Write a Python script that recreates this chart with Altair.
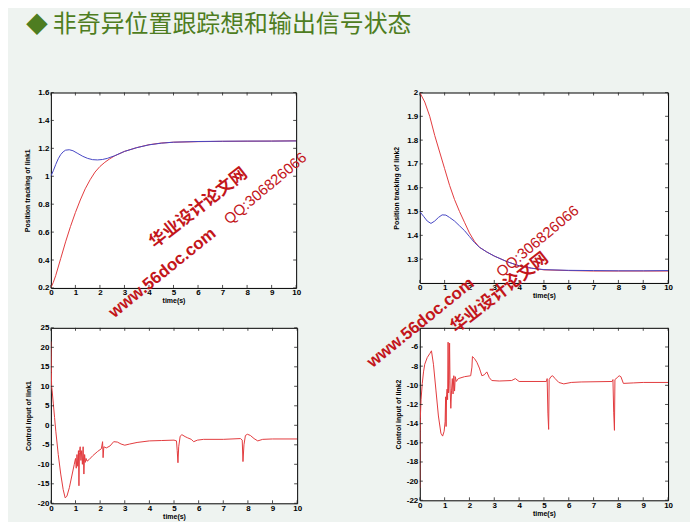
import altair as alt
import pandas as pd

# ---------------- text ----------------
TITLE = "非奇异位置跟踪想和输出信号状态"
BULLET = "◆"
X_LABEL = "time(s)"
Y_LABELS = ["Position tracking of link1", "Position tracking of link2",
            "Control input of link1", "Control input of link2"]
WM_CN = "华业设计论文网"
WM_URL = "www.56doc.com"
WM_QQ = "QQ:306826066"

# ---------------- ticks ----------------
X_TICKS = [0, 1, 2, 3, 4, 5, 6, 7, 8, 9, 10]
Y1_TICKS = [0.2, 0.4, 0.6, 0.8, 1, 1.2, 1.4, 1.6]
Y2_TICKS = [1.3, 1.4, 1.5, 1.6, 1.7, 1.8, 1.9, 2]
Y3_TICKS = [-20, -15, -10, -5, 0, 5, 10, 15, 20, 25]
Y4_TICKS = [-22, -20, -18, -16, -14, -12, -10, -8, -6]

# ---------------- panel 1: position link1 ----------------
t1_blue = [0, 0.1, 0.2, 0.3, 0.4, 0.5, 0.6, 0.75, 0.9, 1.1, 1.3, 1.5, 1.7, 1.9, 2.1, 2.3,
           2.6, 3.0, 3.5, 4.0, 4.5, 5.0, 6.0, 7.0, 8.0, 9.0, 10.0]
y1_blue = [1.0, 1.04, 1.085, 1.125, 1.155, 1.175, 1.187, 1.19, 1.183, 1.163, 1.143, 1.128,
           1.119, 1.117, 1.12, 1.128, 1.147, 1.178, 1.205, 1.225, 1.237, 1.244, 1.249,
           1.251, 1.252, 1.252, 1.253]
t1_red = [0, 0.1, 0.2, 0.4, 0.6, 0.8, 1.0, 1.2, 1.4, 1.6, 1.8, 2.0, 2.2, 2.4, 2.6, 3.0,
          3.5, 4.0, 4.5, 5.0, 6.0, 7.0, 8.0, 9.0, 10.0]
y1_red = [0.2, 0.24, 0.29, 0.41, 0.53, 0.64, 0.74, 0.83, 0.91, 0.975, 1.03, 1.07, 1.1,
          1.125, 1.146, 1.178, 1.205, 1.226, 1.238, 1.244, 1.248, 1.25, 1.251, 1.252, 1.254]

# ---------------- panel 2: position link2 ----------------
t2_blue = [0, 0.15, 0.3, 0.45, 0.6, 0.75, 0.9, 1.05, 1.2, 1.4, 1.6, 1.8, 2.0, 2.2, 2.4,
           2.7, 3.0, 3.5, 4.0, 4.5, 5.0, 6.0, 7.0, 8.0, 9.0, 10.0]
y2_blue = [1.5, 1.48, 1.46, 1.45, 1.46, 1.475, 1.486, 1.485, 1.475, 1.46, 1.44, 1.42,
           1.395, 1.37, 1.35, 1.33, 1.313, 1.29, 1.272, 1.262, 1.256, 1.253, 1.252,
           1.251, 1.251, 1.252]
t2_red = [0, 0.2, 0.4, 0.6, 0.8, 1.0, 1.2, 1.4, 1.6, 1.8, 2.0, 2.2, 2.4, 2.7, 3.0, 3.5,
          4.0, 4.5, 5.0, 6.0, 7.0, 8.0, 9.0, 10.0]
y2_red = [2.0, 1.96, 1.9, 1.82, 1.75, 1.68, 1.61, 1.55, 1.5, 1.455, 1.41, 1.375, 1.35,
          1.33, 1.313, 1.29, 1.272, 1.262, 1.255, 1.252, 1.25, 1.25, 1.25, 1.25]

# ---------------- panel 3: control input link1 ----------------
t3 = [0, 0.01, 0.02, 0.03, 0.05, 0.1, 0.15, 0.2, 0.3, 0.4, 0.5, 0.58, 0.65, 0.75, 0.85,
      0.95, 1.0, 1.03, 1.06, 1.09, 1.12, 1.14, 1.16, 1.19, 1.22, 1.25, 1.28, 1.31, 1.34,
      1.37, 1.4, 1.43, 1.47, 1.55, 1.7, 1.9, 2.05, 2.1, 2.12, 2.15, 2.25, 2.4, 2.55, 2.7,
      2.85, 3.0, 3.2, 3.5, 4.0, 4.5, 5.0, 5.1, 5.13, 5.16, 5.19, 5.25, 5.32, 5.45, 5.55,
      5.7, 5.8, 5.95, 6.2, 7.0, 7.7, 7.77, 7.8, 7.84, 7.9, 7.98, 8.1, 8.25, 8.4, 8.6,
      9.0, 10.0]
u3 = [21.5, 18, 13.5, 10, 9, 5.5, 2, -1.5, -7.5, -12.5, -16.5, -18.6, -18.2, -16, -13,
      -10, -8.5, -11, -7.5, -10.5, -6.5, -15.5, -7, -5.5, -9, -6.5, -10, -5.5, -12.5,
      -7.5, -9.5, -8.5, -9.2, -8.8, -7.8, -6.7, -6, -4.2, -8.3, -5.5, -5.8, -5.3, -4.2,
      -4.3, -4.8, -5.1, -4.8, -4.4, -4.0, -3.9, -3.8, -4.0, -6.5, -9.6, -5.5, -2.8, -2.4,
      -2.9, -3.2, -3.6, -4.2, -3.8, -3.6, -3.6, -3.4, -3.8, -9.3, -5, -2.6, -2.3, -2.6,
      -3.4, -4.0, -3.6, -3.5, -3.5]

# ---------------- panel 4: control input link2 ----------------
t4 = [0, 0.01, 0.02, 0.05, 0.1, 0.15, 0.2, 0.3, 0.4, 0.47, 0.55, 0.65, 0.75, 0.85, 0.92,
      0.98, 1.02, 1.04, 1.06, 1.08, 1.1, 1.12, 1.14, 1.16, 1.18, 1.2, 1.22, 1.25, 1.28,
      1.31, 1.34, 1.37, 1.4, 1.43, 1.47, 1.55, 1.8, 2.05, 2.1, 2.12, 2.2, 2.3, 2.4, 2.45,
      2.5, 2.6, 2.7, 2.8, 2.9, 3.2, 3.7, 3.85, 4.0, 5.1, 5.13, 5.16, 5.19, 5.21, 5.28,
      5.35, 5.45, 5.6, 5.8, 6.1, 6.5, 7.75, 7.78, 7.81, 7.84, 7.86, 7.95, 8.03, 8.1, 8.2,
      8.6, 9.0, 10.0]
u4 = [-20.7, -14.8, -13.5, -11.5, -9.8, -8.6, -7.8, -7.1, -6.7, -6.4, -7.8, -10.5, -13.2,
      -15.0, -15.3, -14.8, -13.8, -11.2, -14.3, -11, -10.4, -11.5, -5.5, -10.8, -9.5,
      -5.6, -10.3, -12.4, -10.5, -9.3, -10.9, -9.0, -10.6, -9.1, -9.6, -9.3, -9.1, -9.0,
      -8.1, -7.0, -7.2, -7.6, -8.2, -8.6, -9.0, -8.9, -8.6, -9.2, -9.5, -9.55, -9.5,
      -9.3, -9.6, -9.6, -9.3, -12.9, -14.6, -9.4, -9.1, -9.0, -9.3, -9.7, -9.85, -9.7,
      -9.65, -9.6, -9.4, -12.8, -14.7, -9.4, -9.2, -9.0, -9.1, -9.8, -9.75, -9.7, -9.7]

# ---------------- style ----------------
FONT = "Liberation Sans"
CJK = "Noto Sans CJK SC"
RED = "#e23b3e"
BLUE = "#4646c4"
GREEN = "#4e7d21"
WM_RED = "#c3161b"
BG = "#eef3f0"
LABEL_EXPR = "'' + datum.value"


def x_axis(w):
    return alt.Axis(values=X_TICKS, title=X_LABEL, labelExpr=LABEL_EXPR,
                    labelFlush=False, labelOverlap=False, ticks=False, domain=False,
                    grid=False, labelPadding=1, titleX=w / 2, titleY=13,
                    titleBaseline="middle", titleAlign="center")


def y_axis(ticks, title, h, tx):
    return alt.Axis(values=ticks, title=title, labelExpr=LABEL_EXPR, labelFlush=False,
                    labelOverlap=False, ticks=False, domain=False, grid=False,
                    labelPadding=2, titleX=tx, titleY=h / 2, titleAngle=270,
                    titleBaseline="middle", titleAlign="center")


def panel(series, w, h, ydom, yticks, ytitle, tx, extra=()):
    xs = alt.Scale(domain=[0, 10], nice=False)
    ys = alt.Scale(domain=ydom, nice=False)
    xa = x_axis(w)
    ya = y_axis(yticks, ytitle, h, tx)
    layers = []
    for tt, vv, color in series:
        df = pd.DataFrame({"t": tt, "v": vv})
        layers.append(alt.Chart(df).mark_line(color=color, strokeWidth=1, clip=True).encode(
            x=alt.X("t:Q", scale=xs, axis=xa),
            y=alt.Y("v:Q", scale=ys, axis=ya)))
    # MATLAB-style inward ticks on all four sides
    xt = pd.DataFrame({"t": X_TICKS})
    yt = pd.DataFrame({"v": yticks})
    tick = dict(color="#222222", strokeWidth=0.8)
    layers.append(alt.Chart(xt).mark_rule(**tick).encode(
        x=alt.X("t:Q", scale=xs, axis=xa), y=alt.value(h), y2=alt.value(h - 3)))
    layers.append(alt.Chart(xt).mark_rule(**tick).encode(
        x=alt.X("t:Q", scale=xs, axis=xa), y=alt.value(0), y2=alt.value(3)))
    layers.append(alt.Chart(yt).mark_rule(**tick).encode(
        y=alt.Y("v:Q", scale=ys, axis=ya), x=alt.value(0), x2=alt.value(3)))
    layers.append(alt.Chart(yt).mark_rule(**tick).encode(
        y=alt.Y("v:Q", scale=ys, axis=ya), x=alt.value(w), x2=alt.value(w - 3)))
    layers.extend(extra)
    return alt.layer(*layers).properties(width=w, height=h)


def text_at(txt, x, y, **kw):
    return alt.Chart(pd.DataFrame({"s": [txt]})).mark_text(**kw).encode(
        text="s:N", x=alt.value(x), y=alt.value(y))


# slide bounds + title, relative to panel 1 origin (page 50, 91)
p1_extra = [
    alt.Chart(pd.DataFrame({"a": [0]})).mark_rect(opacity=0).encode(
        x=alt.value(-42), x2=alt.value(640), y=alt.value(-83), y2=alt.value(429)),
    text_at(BULLET, -14, -68, font=CJK, fontSize=22, color=GREEN, align="center",
            baseline="middle"),
    text_at(TITLE, 2, -68, font=CJK, fontSize=24, color=GREEN, align="left",
            baseline="middle"),
]

# watermarks, drawn last, relative to panel 4 origin (page 420, 327)
wm_cn = dict(font=CJK, fontSize=17, fontWeight="bold", color=WM_RED, angle=322,
             align="center", baseline="middle")
wm_url = dict(font=FONT, fontSize=17, fontWeight="bold", color=WM_RED, angle=321,
              align="center", baseline="middle")
wm_qq = dict(font=FONT, fontSize=15, color=WM_RED, angle=320, align="center",
             baseline="middle")
p4_extra = [
    text_at(WM_CN, -222, -120, **wm_cn),
    text_at(WM_QQ, -155, -140, **wm_qq),
    text_at(WM_URL, -258, -55, **wm_url),
    text_at(WM_URL, 1, -5, **wm_url),
    text_at(WM_QQ, 118, -87, **wm_qq),
    text_at(WM_CN, 80, -35, **wm_cn),
]

p1 = panel([(t1_red, y1_red, RED), (t1_blue, y1_blue, BLUE)], 246, 196, [0.2, 1.6],
           Y1_TICKS, Y_LABELS[0], -23, p1_extra)
p2 = panel([(t2_red, y2_red, RED), (t2_blue, y2_blue, BLUE)], 249, 191, [1.2, 2.0],
           Y2_TICKS, Y_LABELS[1], -23)
p3 = panel([(t3, u3, RED)], 247, 176, [-20, 25], Y3_TICKS, Y_LABELS[2], -22)
p4 = panel([(t4, u4, RED)], 249, 173, [-22, -4], Y4_TICKS, Y_LABELS[3], -21, p4_extra)

chart = alt.concat(p1, p2, p3, p4, columns=2,
                   spacing=alt.RowColnumber(row=40, column=123),
                   bounds="flush").properties(
    padding=0, background=BG
).configure_view(stroke="black", strokeWidth=1, fill="white").configure_axis(
    labelFont=FONT, labelFontSize=8, labelFontWeight="bold", labelColor="black",
    titleFont=FONT, titleFontSize=7, titleFontWeight="bold", titleColor="black")

chart.save("out.html", embed_options={"renderer": "svg", "actions": False})
